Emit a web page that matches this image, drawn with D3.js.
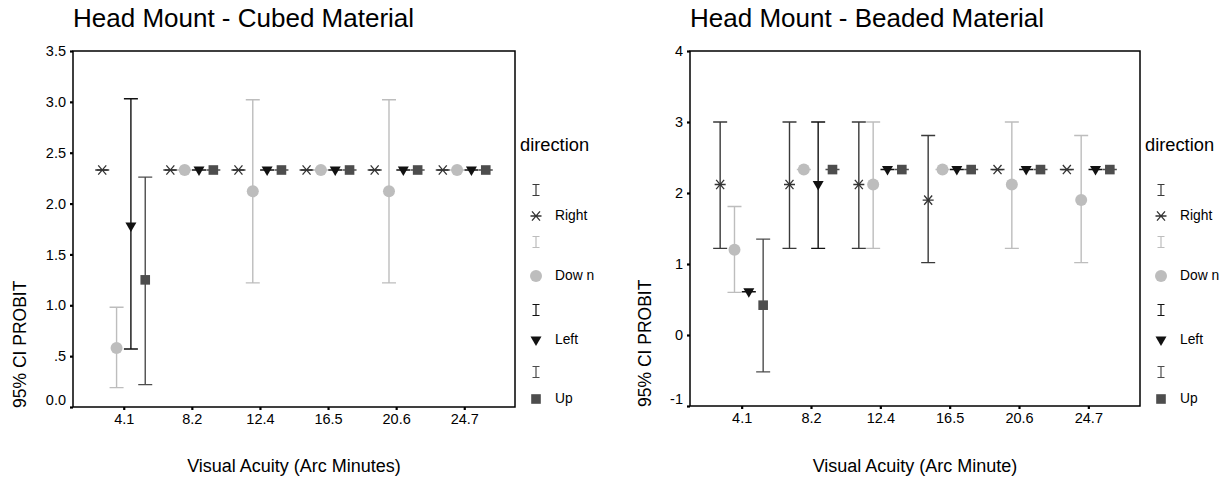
<!DOCTYPE html>
<html><head><meta charset="utf-8">
<script src="https://cdn.jsdelivr.net/npm/d3@7"></script>
<style>body{margin:0;background:#fff}svg{display:block;font-family:"Liberation Sans",Arial,sans-serif}</style>
</head><body><svg id="c" width="1224" height="480"></svg>
<script>
// ---- data ----
const categories = ["4.1","8.2","12.4","16.5","20.6","24.7"];
const seriesNames = ["Right","Down","Left","Up"];
const legendLabels = ["Right","Dow n","Left","Up"];
// each entry: [lower CI, value, upper CI]
const cubedRight = [[2.33,2.33,2.33],[2.33,2.33,2.33],[2.33,2.33,2.33],[2.33,2.33,2.33],[2.33,2.33,2.33],[2.33,2.33,2.33]];
const cubedDown  = [[0.19,0.58,0.98],[2.33,2.33,2.33],[1.22,2.12,3.02],[2.33,2.33,2.33],[1.22,2.12,3.02],[2.33,2.33,2.33]];
const cubedLeft  = [[0.57,1.78,3.03],[2.33,2.33,2.33],[2.33,2.33,2.33],[2.33,2.33,2.33],[2.33,2.33,2.33],[2.33,2.33,2.33]];
const cubedUp    = [[0.22,1.25,2.26],[2.33,2.33,2.33],[2.33,2.33,2.33],[2.33,2.33,2.33],[2.33,2.33,2.33],[2.33,2.33,2.33]];
const beadedRight = [[1.22,2.12,3.00],[1.22,2.12,3.00],[1.22,2.12,3.00],[1.02,1.90,2.81],[2.33,2.33,2.33],[2.33,2.33,2.33]];
const beadedDown  = [[0.60,1.20,1.81],[2.33,2.33,2.33],[1.22,2.12,3.00],[2.33,2.33,2.33],[1.22,2.12,3.00],[1.02,1.90,2.81]];
const beadedLeft  = [[0.61,0.61,0.61],[1.22,2.12,3.00],[2.33,2.33,2.33],[2.33,2.33,2.33],[2.33,2.33,2.33],[2.33,2.33,2.33]];
const beadedUp    = [[-0.52,0.42,1.35],[2.33,2.33,2.33],[2.33,2.33,2.33],[2.33,2.33,2.33],[2.33,2.33,2.33],[2.33,2.33,2.33]];
const cubedYTicks = [0,0.5,1,1.5,2,2.5,3,3.5];
const cubedYLabels = ["0.0",".5","1.0","1.5","2.0","2.5","3.0","3.5"];
const beadedYTicks = [-1,0,1,2,3,4];
const beadedYLabels = ["-1","0","1","2","3","4"];

// ---- styles ----
const barColor = {Right:"#3a3a3a", Down:"#bdbdbd", Left:"#111111", Up:"#4d4d4d"};
const markColor = {Right:"#333333", Down:"#bdbdbd", Left:"#111111", Up:"#4d4d4d"};

const svg = d3.select("#c");

function marker(g, name, x, y){
  const c = markColor[name];
  if(name==="Right"){
    const r=5.5;
    g.append("path").attr("d",`M${x-r},${y}H${x+r}M${x-4},${y-4.6}L${x+4},${y+4.6}M${x-4},${y+4.6}L${x+4},${y-4.6}`)
      .attr("stroke",c).attr("stroke-width",1.3).attr("fill","none");
  } else if(name==="Down"){
    g.append("circle").attr("cx",x).attr("cy",y).attr("r",6).attr("fill",c);
  } else if(name==="Left"){
    g.append("path").attr("d",`M${x-5.5},${y-3.5}L${x+5.5},${y-3.5}L${x},${y+6}Z`).attr("fill",c);
  } else {
    g.append("rect").attr("x",x-4.8).attr("y",y-4.8).attr("width",9.6).attr("height",9.6).attr("fill",c);
  }
}

function drawChart(cfg){
  const g = svg.append("g");
  const x = d3.scalePoint().domain(categories).range([cfg.left,cfg.right]).padding(0.745);
  const y = d3.scaleLinear().domain(cfg.domain).range([cfg.bottom,cfg.top]);
  const offs = d3.scalePoint().domain(seriesNames).range([-21.5,21.5]);

  // title
  g.append("text").attr("x",cfg.left).attr("y",27).attr("font-size",26).attr("fill","#000").text(cfg.title);

  // y axis
  const ya = g.append("g").attr("transform",`translate(${cfg.left},0)`)
    .call(d3.axisLeft(y).tickValues(cfg.yTicks).tickSize(3).tickPadding(4)
      .tickFormat((d,i)=>cfg.yLabels[i]));
  ya.select(".domain").remove();
  ya.selectAll(".tick line").attr("stroke","#000").attr("stroke-width",2.2);
  ya.selectAll(".tick text").attr("font-size",14.5).attr("font-family","Liberation Sans, Arial").attr("fill","#000")
    .attr("dy",(d,i)=> i===0 ? "-0.2em" : "0.32em");

  // x axis
  const xa = g.append("g").attr("transform",`translate(0,${cfg.bottom})`)
    .call(d3.axisBottom(x).tickSize(3).tickPadding(4));
  xa.select(".domain").remove();
  xa.selectAll(".tick line").attr("stroke","#000").attr("stroke-width",2.2);
  xa.selectAll(".tick text").attr("font-size",14.5).attr("font-family","Liberation Sans, Arial").attr("fill","#000");

  // frame
  g.append("rect").attr("x",cfg.left).attr("y",cfg.top).attr("width",cfg.right-cfg.left).attr("height",cfg.bottom-cfg.top)
    .attr("fill","none").attr("stroke","#000").attr("stroke-width",1.5);

  // axis titles
  g.append("text").attr("transform",`translate(${cfg.yLabelX},${cfg.bottom+1}) rotate(-90)`)
    .attr("font-size",17.5).attr("text-anchor","start").attr("dominant-baseline","middle").text("95% CI PROBIT");
  g.append("text").attr("x",(cfg.left+cfg.right)/2).attr("y",467).attr("font-size",18)
    .attr("text-anchor","middle").attr("dominant-baseline","middle").text(cfg.xTitle);

  // error bars then markers
  const cap = 7;
  seriesNames.forEach((s,si)=>{
    const data = cfg.data[si];
    data.forEach((v,ci)=>{
      const cx = x(categories[ci]) + offs(s);
      const [lo,mid,hi] = v;
      g.append("path").attr("d",`M${cx},${y(lo)}V${y(hi)}M${cx-cap},${y(lo)}H${cx+cap}M${cx-cap},${y(hi)}H${cx+cap}`)
        .attr("stroke",barColor[s]).attr("stroke-width",1.4).attr("fill","none");
    });
  });
  seriesNames.forEach((s,si)=>{
    cfg.data[si].forEach((v,ci)=>{
      marker(g, s, x(categories[ci]) + offs(s), y(v[1]));
    });
  });

  // legend
  const lx = cfg.legendX;
  g.append("text").attr("x",lx).attr("y",146).attr("font-size",18.3).attr("dominant-baseline","middle").text("direction");
  const iconY = [190,242,310,372];
  const labY = [216,276,340,399];
  seriesNames.forEach((s,i)=>{
    const ix = lx+16;
    g.append("path").attr("d",`M${ix},${iconY[i]-5.5}V${iconY[i]+5.5}M${ix-3.5},${iconY[i]-5.5}H${ix+3.5}M${ix-3.5},${iconY[i]+5.5}H${ix+3.5}`)
      .attr("stroke",barColor[s]).attr("stroke-width",1.2).attr("fill","none");
    marker(g, s, ix, labY[i]);
    g.append("text").attr("x",lx+35).attr("y",labY[i]).attr("font-size",13.8).attr("dominant-baseline","middle").text(legendLabels[i]);
  });
}

drawChart({left:73,right:515,top:51,bottom:407,domain:[0,3.5],yTicks:cubedYTicks,yLabels:cubedYLabels,
  title:"Head Mount - Cubed Material",xTitle:"Visual Acuity (Arc Minutes)",yLabelX:21,legendX:520,
  data:[cubedRight,cubedDown,cubedLeft,cubedUp]});
drawChart({left:690,right:1140,top:51,bottom:406,domain:[-1,4],yTicks:beadedYTicks,yLabels:beadedYLabels,
  title:"Head Mount - Beaded Material",xTitle:"Visual Acuity (Arc Minute)",yLabelX:646,legendX:1145,
  data:[beadedRight,beadedDown,beadedLeft,beadedUp]});
</script></body></html>
